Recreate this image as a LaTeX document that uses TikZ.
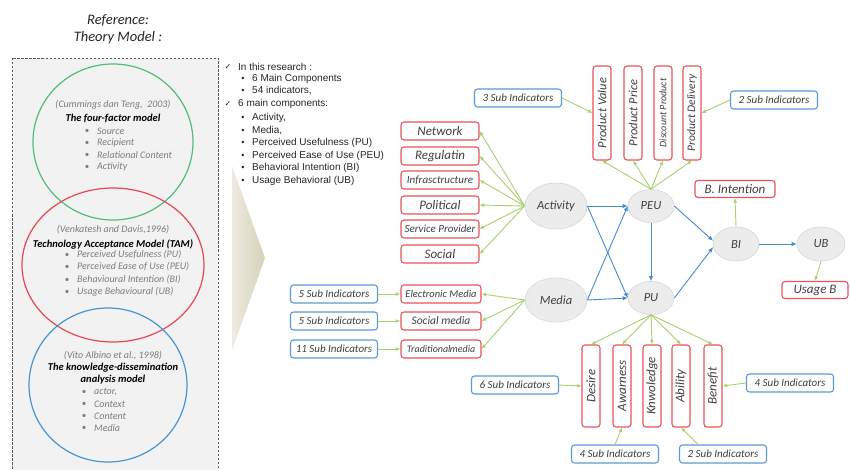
\documentclass[tikz,border=0pt]{standalone}
\usepackage{fontspec}
\setmainfont{Carlito}
\newfontfamily\arialf{Liberation Sans}
\newfontfamily\djv{DejaVu Sans}
\usetikzlibrary{shapes.geometric,arrows.meta}
\definecolor{bred}{RGB}{232,82,92}
\definecolor{bblue}{RGB}{91,155,213}
\definecolor{agreen}{RGB}{168,210,110}
\definecolor{ablue}{RGB}{70,140,210}
\definecolor{efill}{RGB}{236,236,236}
\definecolor{eline}{RGB}{215,215,215}
\definecolor{txt}{RGB}{64,64,64}
\definecolor{gtxt}{RGB}{125,125,125}
\definecolor{ltxt}{RGB}{38,38,38}
\definecolor{cgreen}{RGB}{80,190,120}
\definecolor{cred}{RGB}{232,70,80}
\definecolor{cblue}{RGB}{70,150,210}
\definecolor{panel}{RGB}{242,242,242}
\definecolor{chevA}{RGB}{238,235,224}
\definecolor{chevB}{RGB}{214,209,186}
\tikzset{
  redbox/.style={draw=bred, line width=1.1pt, rounded corners=3pt, fill=white, inner sep=0pt,
    text=txt, font=\itshape\fontsize{13}{13}\selectfont},
  hbox/.style={redbox, minimum width=78, minimum height=18},
  mbox/.style={redbox, minimum width=80, minimum height=18, font=\itshape\fontsize{10.5}{10.5}\selectfont},
  vbox/.style={redbox, rotate=90, minimum height=18},
  bluebox/.style={draw=bblue, line width=1.1pt, rounded corners=3pt, fill=white, inner sep=0pt,
    text=txt, minimum width=87, minimum height=18, font=\itshape\fontsize{11}{11}\selectfont},
  ell/.style={ellipse, fill=efill, draw=eline, line width=0.6pt, inner sep=0pt,
    text=txt, font=\itshape\fontsize{12.5}{12.5}\selectfont},
  garrow/.style={-{Latex[length=4.5pt,width=4pt]}, draw=agreen, line width=0.9pt},
  barrow/.style={-{Latex[length=5pt,width=4.5pt]}, draw=ablue, line width=0.9pt},
  cite/.style={text=gtxt, font=\itshape\fontsize{10}{10}\selectfont},
  mtitle/.style={text=black, font=\bfseries\itshape\fontsize{10.5}{10.5}\selectfont},
  litem/.style={anchor=west, inner sep=0pt, text=gtxt, font=\itshape\fontsize{10}{10}\selectfont},
  lbul/.style={inner sep=0pt, text=gtxt, font=\fontsize{9}{9}\selectfont},
  ritem/.style={anchor=west, inner sep=0pt, text=ltxt, font=\arialf\fontsize{10}{10}\selectfont},
  rbul/.style={inner sep=0pt, text=ltxt, font=\arialf\fontsize{9}{9}\selectfont},
  rchk/.style={inner sep=0pt, text=ltxt, font=\djv\fontsize{8}{8}\selectfont}
}
\begin{document}
\begin{tikzpicture}[x=1pt,y=-1pt]
\useasboundingbox (0,0) rectangle (850,470);
\fill[white] (0,0) rectangle (850,470);

% ---------- Left panel ----------
\node[text=ltxt, font=\itshape\fontsize{14.5}{14.5}\selectfont] (t1) at (118,20) {Reference:};
\node[text=ltxt, font=\itshape\fontsize{14.5}{14.5}\selectfont] (t2) at (118,38) {Theory Model :};
\draw[gray!70!black, dashed, dash pattern=on 2.5pt off 1.5pt, fill=panel, line width=0.7pt] (12,58) rectangle (218,474);
\draw[cgreen, line width=1.2pt] (113,142) ellipse [x radius=80pt, y radius=78pt];
\draw[cred, line width=1.2pt] (113,265) ellipse [x radius=91pt, y radius=77pt];
\draw[cblue, line width=1.2pt] (108,385) ellipse [x radius=79pt, y radius=77pt];

\node[cite] (c1) at (113,105) {(Cummings dan Teng,\ \ 2003)};
\node[mtitle] (m1) at (113,118) {The four-factor model};
\foreach \yy/\tt [count=\i] in {131/Source,143/Recipient,155/Relational Content,167/Activity}{
  \node[lbul] (gb\i) at (87,\yy) {•};
  \node[litem] (gi\i) at (97,\yy) {\tt};
}
\node[cite] (c2) at (113,230) {(Venkatesh and Davis,1996)};
\node[mtitle] (m2) at (113,244) {Technology Acceptance Model (TAM)};
\foreach \yy/\tt [count=\i] in {255/Perceived Usefulness (PU),267/Perceived Ease of Use (PEU),280/Behavioural Intention\ (BI),292/Usage Behavioural (UB)}{
  \node[lbul] (rb\i) at (67,\yy) {•};
  \node[litem] (ri\i) at (77,\yy) {\tt};
}
\node[cite] (c3) at (113,356) {(Vito Albino et al., 1998)};
\node[mtitle] (m3) at (113,368) {The knowledge-dissemination};
\node[mtitle] (m4) at (113,380) {analysis model};
\foreach \yy/\tt [count=\i] in {392/{actor,},404/Context,416/Content,428/Media}{
  \node[lbul] (bb\i) at (84,\yy) {•};
  \node[litem] (bi\i) at (94,\yy) {\tt};
}

% ---------- Middle list ----------
\node[rchk] (k1) at (228,67) {✓};
\node[ritem] (l1) at (238,67) {In this research :};
\node[rbul] (lb1) at (243,79) {•};
\node[ritem] (l2) at (252,79) {6 Main Components};
\node[rbul] (lb2) at (243,91) {•};
\node[ritem] (l3) at (252,91) {54 indicators,};
\node[rchk] (k2) at (228,104) {✓};
\node[ritem] (l4) at (238,104) {6 main components:};
\foreach \yy/\tt [count=\i] in {118/{Activity,},131/{Media,},143/Perceived Usefulness (PU),156/Perceived Ease of Use (PEU),168/Behavioral Intention (BI),181/Usage Behavioral (UB)}{
  \node[rbul] (mb\i) at (243,\yy) {•};
  \node[ritem] (mi\i) at (252,\yy) {\tt};
}

% chevron
\shade[left color=chevA, right color=chevB] (232,166) -- (265,258) -- (232,350) -- cycle;

% ---------- Diagram nodes ----------
\node[hbox] (net) at (440,131) {Network};
\node[hbox] (reg) at (440,156) {Regulatin};
\node[hbox, font=\itshape\fontsize{11}{11}\selectfont] (inf) at (440,180) {Infrasctructure};
\node[hbox] (pol) at (440,205) {Political};
\node[hbox, font=\itshape\fontsize{11}{11}\selectfont] (spv) at (440,229) {Service Provider};
\node[hbox] (soc) at (440,254) {Social};

\node[mbox] (em) at (441,294) {Electronic Media};
\node[mbox, font=\itshape\fontsize{11.5}{11.5}\selectfont] (sm) at (441,321) {Social media};
\node[mbox, font=\itshape\fontsize{10}{10}\selectfont] (tm) at (441,349) {Traditional\kern-0.5pt media};

\node[bluebox] (s5a) at (334,294) {5 Sub Indicators};
\node[bluebox] (s5b) at (334,321) {5 Sub Indicators};
\node[bluebox] (s11) at (334,349) {11 Sub Indicators};
\node[bluebox] (s3) at (518,98) {3 Sub Indicators};
\node[bluebox] (s2) at (774,100) {2 Sub Indicators};
\node[bluebox] (s6) at (515,385) {6 Sub Indicators};
\node[bluebox] (s4r) at (790,383) {4 Sub Indicators};
\node[bluebox] (s4b) at (615,454) {4 Sub Indicators};
\node[bluebox] (s2b) at (723,454) {2 Sub Indicators};

\node[vbox, minimum width=94, font=\itshape\fontsize{12.5}{12.5}\selectfont] (pv) at (602,113) {Product Value};
\node[vbox, minimum width=94, font=\itshape\fontsize{12.5}{12.5}\selectfont] (pp) at (633,113) {Product Price};
\node[vbox, minimum width=94, font=\itshape\fontsize{10}{10}\selectfont] (dp) at (663,113) {Discount Product};
\node[vbox, minimum width=94, font=\itshape\fontsize{11.5}{11.5}\selectfont] (pdl) at (692,113) {Product Delivery};

\node[vbox, minimum width=82] (des) at (591,386) {Desire};
\node[vbox, minimum width=82] (awa) at (622,386) {Awarness};
\node[vbox, minimum width=82] (knw) at (652,386) {Knwoledge};
\node[vbox, minimum width=82] (abi) at (681,386) {Ability};
\node[vbox, minimum width=82] (ben) at (713,386) {Benefit};

\node[ell, minimum width=62, minimum height=46] (act) at (556,206) {Activity};
\node[ell, minimum width=62, minimum height=44] (med) at (556,300) {Media};
\node[ell, minimum width=46, minimum height=33] (peu) at (651,206) {PEU};
\node[ell, minimum width=46, minimum height=33] (pu) at (651,298) {PU};
\node[ell, minimum width=46, minimum height=34] (bi) at (736,244) {BI};
\node[ell, minimum width=48, minimum height=34] (ub) at (821,244) {UB};

\node[redbox, minimum width=80, minimum height=17] (bint) at (735,189) {B. Intention};
\node[redbox, minimum width=66, minimum height=17] (usb) at (815,290) {Usage B};

% ---------- Green connectors ----------
\foreach \n in {net,reg,inf,pol,spv,soc} \draw[garrow] (act.west) -- (\n.east);
\foreach \n in {em,sm,tm} \draw[garrow] (med.west) -- (\n.east);
\draw[garrow] (s5a.east) -- (em.west);
\draw[garrow] (s5b.east) -- (sm.west);
\draw[garrow] (s11.east) -- (tm.west);
\foreach \n in {pv,pp,dp,pdl} \draw[garrow] (peu.north) -- (\n.west);
\draw[garrow] (s3.east) -- (pv.north);
\draw[garrow] (s2.west) -- (pdl.south);
\foreach \n in {des,awa,knw,abi,ben} \draw[garrow] (pu.south) -- (\n.east);
\draw[garrow] (s6.east) -- (des.north);
\draw[garrow] (s4r.west) -- (ben.south);
\draw[garrow] (s4b.north) -- (awa.west);
\draw[garrow] (s2b.159) -- (abi.west);
\draw[garrow] (bi.north) -- (bint.south);
\draw[garrow] (ub.south) -- (usb.north);

% ---------- Blue connectors ----------
\draw[barrow] (act.east) -- (peu.west);
\draw[barrow] (act.east) -- (pu.west);
\draw[barrow] (med.east) -- (peu.west);
\draw[barrow] (med.east) -- (pu.west);
\draw[barrow] (peu.south) -- (pu.north);
\draw[barrow] (peu.east) -- (bi.172);
\draw[barrow] (pu.east) -- (bi.188);
\draw[barrow] (bi.east) -- (ub.west);
\end{tikzpicture}
\end{document}
